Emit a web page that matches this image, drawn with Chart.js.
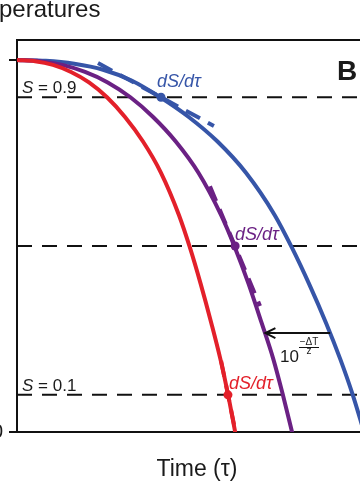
<!DOCTYPE html>
<html><head><meta charset="utf-8">
<script src="https://cdn.jsdelivr.net/npm/chart.js@4"></script>
<style>
html,body{margin:0;padding:0;width:360px;height:488px;overflow:hidden;background:#fff;}
#wrap{position:absolute;left:-40px;top:0;width:440px;height:488px;}
</style></head><body>
<div id="wrap"><canvas id="c" width="440" height="488"></canvas></div>
<script>
// ---- data ----
const survLevels = [1, 0.997, 0.987, 0.968, 0.940, 0.900, 0.847, 0.781, 0.697, 0.583, 0.497, 0.399, 0.292, 0.196, 0.102, 0];
const timeRed    = [0, 5, 10, 15, 20, 25, 30, 35, 40, 45, 48, 51, 54, 56.5, 58.6, 60.6];
const timePurple = [0, 6.3, 12.6, 18.9, 25.2, 31.5, 37.8, 44.1, 50.4, 56.7, 60.5, 64.3, 68.0, 71.2, 73.8, 76.4];
const timeBlue   = [0, 8.0, 15.9, 23.9, 31.8, 39.8, 47.7, 55.7, 63.6, 71.6, 76.3, 81.1, 85.9, 89.8, 93.2, 96.4];
const survBlue   = [1, 0.998, 0.990, 0.974, 0.945, 0.900, 0.847, 0.781, 0.697, 0.583, 0.497, 0.399, 0.292, 0.196, 0.102, 0];
const thresholds = [0.9, 0.5, 0.1];
const markerTime = [40.0, 60.6, 58.6];
const markerSurv = [0.9, 0.5, 0.1];
const tangentBlueTime = [22.5, 54.7];
const tangentBlueSurv = [0.992, 0.823];
const tangentPurpleTime = [53.6, 67.5];
const tangentPurpleSurv = [0.661, 0.339];
const tangentRedTime = [56.7, 60.3];
const tangentRedSurv = [0.191, 0.019];
const arrowTime = [87.0, 69.0];
const arrowSurv = [0.266, 0.266];
const yTickValues = [0, 1];
const yTickLabels = ['0', ''];
const xRange = [0, 100];
const yRange = [0, 1.054];

const RED = '#e3202a', PURPLE = '#6b2184', BLUE = '#3655a8', BLACK = '#111111';
const FONT = '"Liberation Sans", Arial, Helvetica, sans-serif';
const OFF = 40;

const pts = (t, s) => t.map((v, i) => ({x: v, y: s[i]}));

const datasets = [];
datasets.push({
  data: pts(markerTime, markerSurv), showLine: false,
  pointRadius: 4.5, pointBorderWidth: 0,
  pointBackgroundColor: [BLUE, PURPLE, RED], borderColor: [BLUE, PURPLE, RED]
});
datasets.push({data: pts(arrowTime, arrowSurv), borderColor: BLACK, borderWidth: 2, pointRadius: 0});
[[tangentBlueTime, tangentBlueSurv, BLUE], [tangentPurpleTime, tangentPurpleSurv, PURPLE], [tangentRedTime, tangentRedSurv, RED]].forEach(([t, s, c]) => {
  datasets.push({data: pts(t, s), borderColor: c, borderWidth: 4, borderDash: [16, 9], pointRadius: 0});
});
[[timeRed, survLevels, RED], [timePurple, survLevels, PURPLE], [timeBlue, survBlue, BLUE]].forEach(([t, s, c]) => {
  datasets.push({data: pts(t, s), borderColor: c, borderWidth: 4, pointRadius: 0, cubicInterpolationMode: 'monotone', borderCapStyle: 'round'});
});
thresholds.forEach(v => {
  datasets.push({data: [{x: xRange[0], y: v}, {x: xRange[1], y: v}], borderColor: BLACK, borderWidth: 2, borderDash: [15, 10], pointRadius: 0});
});

const textPlugin = {
  id: 'texts',
  afterDraw(chart) {
    const ctx = chart.ctx;
    const xs = chart.scales.x, ys = chart.scales.y;
    const P = v => v + OFF;
    ctx.save();
    ctx.textAlign = 'left';
    ctx.textBaseline = 'alphabetic';
    ctx.fillStyle = '#1a1a1a';
    ctx.font = '24px ' + FONT;
    ctx.fillText('peratures', P(-1), 17);
    ctx.font = 'bold 28px ' + FONT;
    ctx.fillText('B', P(337), 80);
    const sLabel = (txt, x, y) => {
      ctx.fillStyle = '#1a1a1a';
      ctx.font = 'italic 17px ' + FONT;
      ctx.fillText('S', P(x), y);
      const w = ctx.measureText('S').width;
      ctx.font = '17px ' + FONT;
      ctx.fillText(' = ' + txt, P(x) + w, y);
    };
    sLabel('0.9', 22, 93);
    sLabel('0.1', 22, 391);
    ctx.font = 'italic 18px ' + FONT;
    ctx.fillStyle = BLUE; ctx.fillText('dS/dτ', P(157), 87);
    ctx.fillStyle = PURPLE; ctx.fillText('dS/dτ', P(235), 240);
    ctx.fillStyle = RED; ctx.fillText('dS/dτ', P(229), 389);
    const tx = xs.getPixelForValue(arrowTime[1]), ty = ys.getPixelForValue(arrowSurv[1]);
    ctx.strokeStyle = BLACK; ctx.lineWidth = 2;
    ctx.beginPath();
    ctx.moveTo(tx + 10, ty - 5); ctx.lineTo(tx, ty); ctx.lineTo(tx + 10, ty + 5);
    ctx.stroke();
    ctx.fillStyle = '#1a1a1a';
    ctx.font = '17px ' + FONT;
    ctx.fillText('10', P(280), 362);
    ctx.font = '10px ' + FONT;
    ctx.textAlign = 'center';
    ctx.fillText('\u2212\u0394T', P(309), 345);
    ctx.fillText('z', P(309), 354);
    ctx.lineWidth = 1;
    ctx.beginPath(); ctx.moveTo(P(299), 347.5); ctx.lineTo(P(319), 347.5); ctx.stroke();
    ctx.restore();
  }
};

new Chart(document.getElementById('c'), {
  type: 'line',
  data: {datasets},
  options: {
    responsive: false, animation: false, devicePixelRatio: 1,
    layout: {padding: {left: 0, right: 23, top: 40, bottom: 0}},
    plugins: {legend: {display: false}, tooltip: {enabled: false}},
    elements: {line: {tension: 0}},
    scales: {
      x: {
        type: 'linear', min: xRange[0], max: xRange[1], position: 'bottom',
        grid: {display: false},
        border: {display: true, color: BLACK, width: 2},
        ticks: {display: false},
        title: {display: true, text: 'Time (τ)', color: '#1a1a1a', font: {family: FONT, size: 23}, padding: {top: 0, bottom: 5}},
        afterFit: s => { s.height = 56; }
      },
      x2: {
        type: 'linear', position: 'top', min: 0, max: 1,
        grid: {display: false},
        border: {display: true, color: BLACK, width: 2},
        ticks: {display: false},
        afterFit: s => { s.height = 0; }
      },
      y: {
        type: 'linear', min: yRange[0], max: yRange[1],
        grid: {display: true, drawOnChartArea: false, drawTicks: true, tickLength: 8, color: BLACK, lineWidth: 2},
        border: {display: true, color: BLACK, width: 2},
        ticks: {
          color: '#1a1a1a', font: {family: FONT, size: 20}, padding: 6,
          callback: v => { const i = yTickValues.indexOf(v); return i >= 0 ? yTickLabels[i] : ''; }
        },
        afterBuildTicks: s => { s.ticks = yTickValues.map(v => ({value: v})); },
        afterFit: s => { s.width = 57; }
      }
    }
  },
  plugins: [textPlugin]
});
</script>
</body></html>
